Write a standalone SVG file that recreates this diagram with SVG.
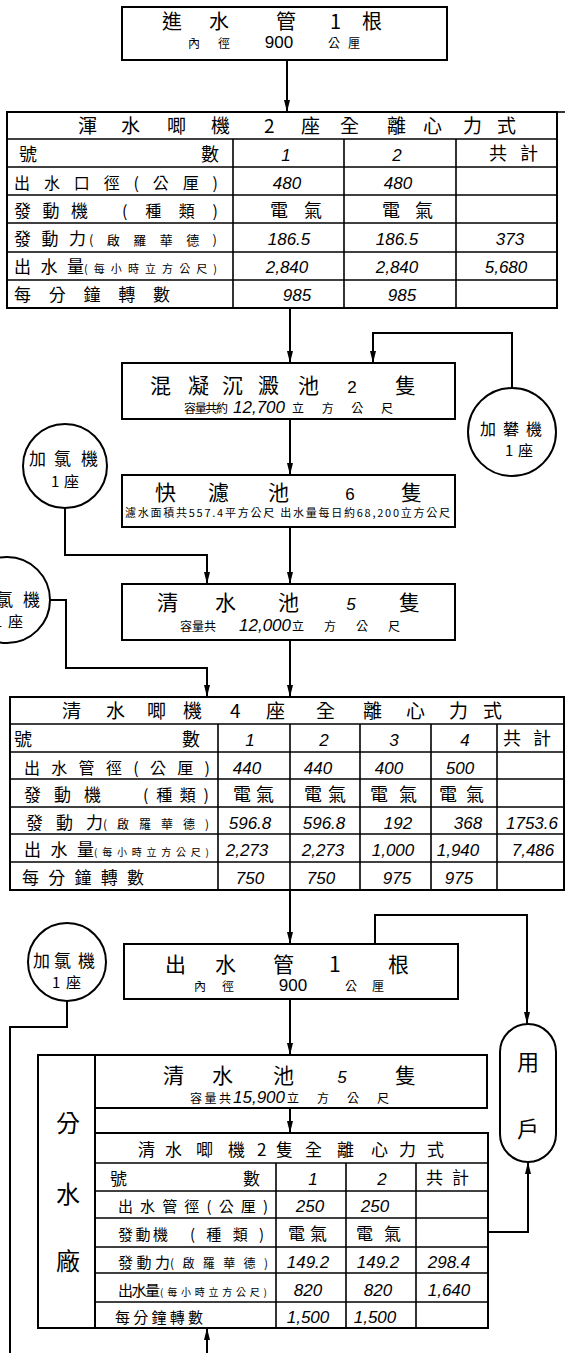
<svg xmlns="http://www.w3.org/2000/svg" width="565" height="1353" viewBox="0 0 565 1353">
<style>
.bx{fill:#fff;stroke:#000;stroke-width:2}
.ln{fill:none;stroke:#000;stroke-width:2}
.gl{stroke:#000;stroke-width:1.6}
.c{font-family:"Noto Sans CJK TC","Noto Sans CJK SC",sans-serif;fill:#000}
.n{font-family:"Liberation Sans",Arial,sans-serif;font-style:italic;fill:#000;font-size:17px;text-anchor:middle}
.m{text-anchor:middle}
</style>
<defs>
<marker id="ah" viewBox="0 0 12 6" refX="12" refY="3" markerWidth="12" markerHeight="6" markerUnits="userSpaceOnUse" orient="auto"><path d="M0,0 L12,3 L0,6 z" fill="#000"/></marker>
</defs>
<rect width="565" height="1353" fill="#fff"/>

<g id="connectors" class="ln">
<path d="M287,60 V112" marker-end="url(#ah)"/>
<path d="M290,308 V363" marker-end="url(#ah)"/>
<path d="M512,388 V333 H373 V363" marker-end="url(#ah)"/>
<path d="M290,419 V475" marker-end="url(#ah)"/>
<path d="M65,508 V555 H207 V584" marker-end="url(#ah)"/>
<path d="M290,527 V584" marker-end="url(#ah)"/>
<path d="M50,600 H66 V668 H207 V697" marker-end="url(#ah)"/>
<path d="M290,640 V697" marker-end="url(#ah)"/>
<path d="M290,890 V944" marker-end="url(#ah)"/>
<path d="M375,944 V915 H527 V1024" marker-end="url(#ah)"/>
<path d="M290,999 V1055" marker-end="url(#ah)"/>
<path d="M290,1108 V1133" marker-end="url(#ah)"/>
<path d="M488,1232 H528 V1162" marker-end="url(#ah)"/>
<path d="M207,1353 V1328" marker-end="url(#ah)"/>
<path d="M67,1001 V1027 H10 V1353"/>
</g>

<g id="inlet-pipe">
<rect class="bx" x="122" y="7" width="325" height="53"/>
<text class="c" font-size="20" x="162 209 276 330 362" y="29">進水管1根</text>
<text class="c" font-size="12" x="188 218" y="48">內徑</text>
<text class="n" font-size="16" x="279" y="48" style="font-style:normal">900</text>
<text class="c" font-size="12" x="328 348" y="48">公厘</text>
</g>

<g id="raw-pump-table">
<rect class="bx" x="7" y="112" width="550" height="196"/>
<line class="gl" x1="557" y1="112" x2="565" y2="112"/>
<g class="gl">
<line x1="7" y1="139" x2="557" y2="139"/>
<line x1="7" y1="167" x2="557" y2="167"/>
<line x1="7" y1="195" x2="557" y2="195"/>
<line x1="7" y1="223" x2="557" y2="223"/>
<line x1="7" y1="252" x2="557" y2="252"/>
<line x1="7" y1="280" x2="557" y2="280"/>
<line x1="233" y1="139" x2="233" y2="308"/>
<line x1="344" y1="139" x2="344" y2="308"/>
<line x1="456" y1="139" x2="456" y2="308"/>
</g>
<text class="c" font-size="19" x="78 121 167 211 264 301 340 387 423 463 497" y="133">渾水唧機2座全離心力式</text>
<text class="c" font-size="18" x="19" y="161">號</text>
<text class="c" font-size="18" x="201" y="161">數</text>
<text class="n" x="286" y="161">1</text>
<text class="n" x="397" y="161">2</text>
<text class="c" font-size="18" x="489 520" y="160">共計</text>
<text class="c" font-size="16" x="14" y="189" textLength="204" lengthAdjust="spacing">出水口徑(公厘)</text>
<text class="n" x="287" y="189">480</text>
<text class="n" x="398" y="189">480</text>
<text class="c" font-size="17" x="14" y="217" textLength="74" lengthAdjust="spacing">發動機</text>
<text class="c" font-size="16" x="122" y="217" textLength="96" lengthAdjust="spacing">(種類)</text>
<text class="c" font-size="18" x="270 304" y="217">電氣</text>
<text class="c" font-size="18" x="382 415" y="217">電氣</text>
<text class="c" font-size="17" x="14" y="245" textLength="72" lengthAdjust="spacing">發動力</text>
<text class="c" font-size="13" x="89" y="245" textLength="128" lengthAdjust="spacing">(啟羅華德)</text>
<text class="n" x="289" y="245">186.5</text>
<text class="n" x="397" y="245">186.5</text>
<text class="n" x="510" y="245">373</text>
<text class="c" font-size="17" x="14" y="273" textLength="70" lengthAdjust="spacing">出水量</text>
<text class="c" font-size="11" x="84" y="273" textLength="133" lengthAdjust="spacing">(每小時立方公尺)</text>
<text class="n" x="287" y="273">2,840</text>
<text class="n" x="397" y="273">2,840</text>
<text class="n" x="506" y="273">5,680</text>
<text class="c" font-size="17" x="14" y="301" textLength="156" lengthAdjust="spacing">每分鐘轉數</text>
<text class="n" x="297" y="301">985</text>
<text class="n" x="402" y="301">985</text>
</g>

<g id="sedimentation">
<rect class="bx" x="122" y="363" width="333" height="56"/>
<text class="c" font-size="21" x="150 188 222 258 298" y="393">混凝沉澱池</text>
<text class="n" font-size="22" x="352" y="393" style="font-style:normal">2</text>
<text class="c" font-size="21" x="395" y="393">隻</text>
<text class="c" font-size="12" x="184" y="413" textLength="44" lengthAdjust="spacing">容量共約</text>
<text class="n" font-size="15" x="259" y="413">12,700</text>
<text class="c" font-size="12" x="292" y="413" textLength="101" lengthAdjust="spacing">立方公尺</text>
</g>

<g id="alum-feeder">
<circle class="bx" cx="512" cy="432" r="44"/>
<text class="c" font-size="16" x="480 503 526" y="435">加礬機</text>
<text class="c" font-size="15" x="505 518" y="456">1座</text>
</g>

<g id="rapid-filter">
<rect class="bx" x="122" y="475" width="333" height="52"/>
<text class="c" font-size="21" x="155 208 268" y="500">快濾池</text>
<text class="n" font-size="22" x="350" y="500" style="font-style:normal">6</text>
<text class="c" font-size="21" x="401" y="500">隻</text>
<text class="c" font-size="11" x="125" y="517" textLength="325" lengthAdjust="spacing">濾水面積共557.4平方公尺 出水量每日約68,200立方公尺</text>
</g>

<g id="chlorinator-1">
<circle class="bx" cx="65" cy="466" r="42"/>
<text class="c" font-size="17" x="29 54 81" y="465">加氯機</text>
<text class="c" font-size="15" x="51 64" y="487">1座</text>
</g>

<g id="clear-well-1">
<rect class="bx" x="122" y="584" width="333" height="56"/>
<text class="c" font-size="21" x="157 215 278" y="610">清水池</text>
<text class="n" font-size="22" x="351" y="610">5</text>
<text class="c" font-size="21" x="399" y="610">隻</text>
<text class="c" font-size="12" x="180" y="631" textLength="36" lengthAdjust="spacing">容量共</text>
<text class="n" font-size="14" x="265" y="631">12,000</text>
<text class="c" font-size="12" x="292" y="631" textLength="108" lengthAdjust="spacing">立方公尺</text>
</g>

<g id="chlorinator-2">
<circle class="bx" cx="7" cy="600" r="43"/>
<text class="c" font-size="17" x="-29 -4 23" y="606">加氯機</text>
<text class="c" font-size="15" x="-6 8" y="627">1座</text>
</g>

<g id="clear-pump-table">
<rect class="bx" x="10" y="697" width="554" height="193"/>
<g class="gl">
<line x1="10" y1="724" x2="564" y2="724"/>
<line x1="10" y1="752" x2="564" y2="752"/>
<line x1="10" y1="779" x2="564" y2="779"/>
<line x1="10" y1="807" x2="564" y2="807"/>
<line x1="10" y1="834" x2="564" y2="834"/>
<line x1="10" y1="862" x2="564" y2="862"/>
<line x1="218" y1="724" x2="218" y2="890"/>
<line x1="290" y1="724" x2="290" y2="890"/>
<line x1="360" y1="724" x2="360" y2="890"/>
<line x1="431" y1="724" x2="431" y2="890"/>
<line x1="497" y1="724" x2="497" y2="890"/>
</g>
<text class="c" font-size="19" x="62 106 147 183 230 266 316 363 406 449 483" y="718">清水唧機4座全離心力式</text>
<text class="c" font-size="18" x="14" y="746">號</text>
<text class="c" font-size="18" x="182" y="746">數</text>
<text class="n" x="250" y="746">1</text>
<text class="n" x="324" y="746">2</text>
<text class="n" x="394" y="746">3</text>
<text class="n" x="465" y="746">4</text>
<text class="c" font-size="18" x="503 533" y="745">共計</text>
<text class="c" font-size="16" x="24" y="774" textLength="186" lengthAdjust="spacing">出水管徑(公厘)</text>
<text class="n" x="247" y="774">440</text>
<text class="n" x="318" y="774">440</text>
<text class="n" x="389" y="774">400</text>
<text class="n" x="460" y="774">500</text>
<text class="c" font-size="17" x="24" y="801" textLength="77" lengthAdjust="spacing">發動機</text>
<text class="c" font-size="16" x="143" y="801" textLength="66" lengthAdjust="spacing">(種類)</text>
<text class="c" font-size="18" x="233 256" y="801">電氣</text>
<text class="c" font-size="18" x="304 328" y="801">電氣</text>
<text class="c" font-size="18" x="370 399" y="801">電氣</text>
<text class="c" font-size="18" x="439 466" y="801">電氣</text>
<text class="c" font-size="17" x="26" y="829" textLength="77" lengthAdjust="spacing">發動力</text>
<text class="c" font-size="12" x="103" y="829" textLength="106" lengthAdjust="spacing">(啟羅華德)</text>
<text class="n" x="250" y="829">596.8</text>
<text class="n" x="324" y="829">596.8</text>
<text class="n" x="398" y="829">192</text>
<text class="n" x="468" y="829">368</text>
<text class="n" x="532" y="829">1753.6</text>
<text class="c" font-size="17" x="24" y="856" textLength="70" lengthAdjust="spacing">出水量</text>
<text class="c" font-size="10" x="94" y="856" textLength="115" lengthAdjust="spacing">(每小時立方公尺)</text>
<text class="n" x="247" y="856">2,273</text>
<text class="n" x="323" y="856">2,273</text>
<text class="n" x="393" y="856">1,000</text>
<text class="n" x="458" y="856">1,940</text>
<text class="n" x="533" y="856">7,486</text>
<text class="c" font-size="17" x="22" y="884" textLength="122" lengthAdjust="spacing">每分鐘轉數</text>
<text class="n" x="250" y="884">750</text>
<text class="n" x="321" y="884">750</text>
<text class="n" x="397" y="884">975</text>
<text class="n" x="459" y="884">975</text>
</g>

<g id="outlet-pipe">
<rect class="bx" x="124" y="944" width="334" height="55"/>
<text class="c" font-size="21" x="165 215 273 329 388" y="972">出水管1根</text>
<text class="c" font-size="12" x="194 222" y="991">內徑</text>
<text class="n" font-size="16" x="293" y="991" style="font-style:normal">900</text>
<text class="c" font-size="12" x="345 372" y="991">公厘</text>
</g>

<g id="chlorinator-3">
<circle class="bx" cx="67" cy="962" r="39"/>
<text class="c" font-size="17" x="33 54 78" y="967">加氯機</text>
<text class="c" font-size="15" x="52 66" y="988">1座</text>
</g>

<g id="consumers">
<path class="bx" d="M500,1052 A28,28 0 0 1 556,1052 V1134 A28,28 0 0 1 500,1134 Z"/>
<text class="c m" font-size="22" x="528" y="1070">用</text>
<text class="c m" font-size="22" x="528" y="1137">戶</text>
</g>

<g id="sub-plant">
<rect class="bx" x="38" y="1055" width="57" height="273"/>
<text class="c m" font-size="24" x="68" y="1132">分</text>
<text class="c m" font-size="24" x="68" y="1203">水</text>
<text class="c m" font-size="24" x="68" y="1270">廠</text>
</g>

<g id="clear-well-2">
<rect class="bx" x="95" y="1055" width="392" height="53"/>
<text class="c" font-size="21" x="163 212 273" y="1083">清水池</text>
<text class="n" font-size="22" x="342" y="1083">5</text>
<text class="c" font-size="21" x="395" y="1083">隻</text>
<text class="c" font-size="12" x="190" y="1103" textLength="41" lengthAdjust="spacing">容量共</text>
<text class="n" font-size="14" x="259" y="1103">15,900</text>
<text class="c" font-size="12" x="287" y="1103" textLength="102" lengthAdjust="spacing">立方公尺</text>
</g>

<g id="sub-pump-table">
<rect class="bx" x="95" y="1133" width="393" height="195"/>
<g class="gl">
<line x1="95" y1="1163" x2="488" y2="1163"/>
<line x1="95" y1="1191" x2="488" y2="1191"/>
<line x1="95" y1="1218" x2="488" y2="1218"/>
<line x1="95" y1="1247" x2="488" y2="1247"/>
<line x1="95" y1="1273" x2="488" y2="1273"/>
<line x1="95" y1="1302" x2="488" y2="1302"/>
<line x1="276" y1="1163" x2="276" y2="1328"/>
<line x1="346" y1="1163" x2="346" y2="1328"/>
<line x1="416" y1="1163" x2="416" y2="1328"/>
</g>
<text class="c" font-size="17" x="138 165 196 228 257 276 305 337 371 399 427" y="1156">清水唧機2隻全離心力式</text>
<text class="c" font-size="17" x="110" y="1185">號</text>
<text class="c" font-size="17" x="243" y="1185">數</text>
<text class="n" x="313" y="1185">1</text>
<text class="n" x="382" y="1185">2</text>
<text class="c" font-size="17" x="426 452" y="1184">共計</text>
<text class="c" font-size="15" x="118" y="1212" textLength="150" lengthAdjust="spacing">出水管徑(公厘)</text>
<text class="n" x="310" y="1212">250</text>
<text class="n" x="375" y="1212">250</text>
<text class="c" font-size="15" x="118" y="1240" textLength="50" lengthAdjust="spacing">發動機</text>
<text class="c" font-size="15" x="190" y="1240" textLength="74" lengthAdjust="spacing">(種類)</text>
<text class="c" font-size="17" x="288 310" y="1240">電氣</text>
<text class="c" font-size="17" x="356 384" y="1240">電氣</text>
<text class="c" font-size="15" x="118" y="1268" textLength="52" lengthAdjust="spacing">發動力</text>
<text class="c" font-size="12" x="170" y="1268" textLength="98" lengthAdjust="spacing">(啟羅華德)</text>
<text class="n" x="308" y="1268">149.2</text>
<text class="n" x="378" y="1268">149.2</text>
<text class="n" x="449" y="1268">298.4</text>
<text class="c" font-size="15" x="118" y="1296" textLength="42" lengthAdjust="spacing">出水量</text>
<text class="c" font-size="10" x="160" y="1296" textLength="107" lengthAdjust="spacing">(每小時立方公尺)</text>
<text class="n" x="308" y="1296">820</text>
<text class="n" x="378" y="1296">820</text>
<text class="n" x="449" y="1296">1,640</text>
<text class="c" font-size="15" x="115" y="1323" textLength="88" lengthAdjust="spacing">每分鐘轉數</text>
<text class="n" x="308" y="1323">1,500</text>
<text class="n" x="375" y="1323">1,500</text>
</g>
</svg>
